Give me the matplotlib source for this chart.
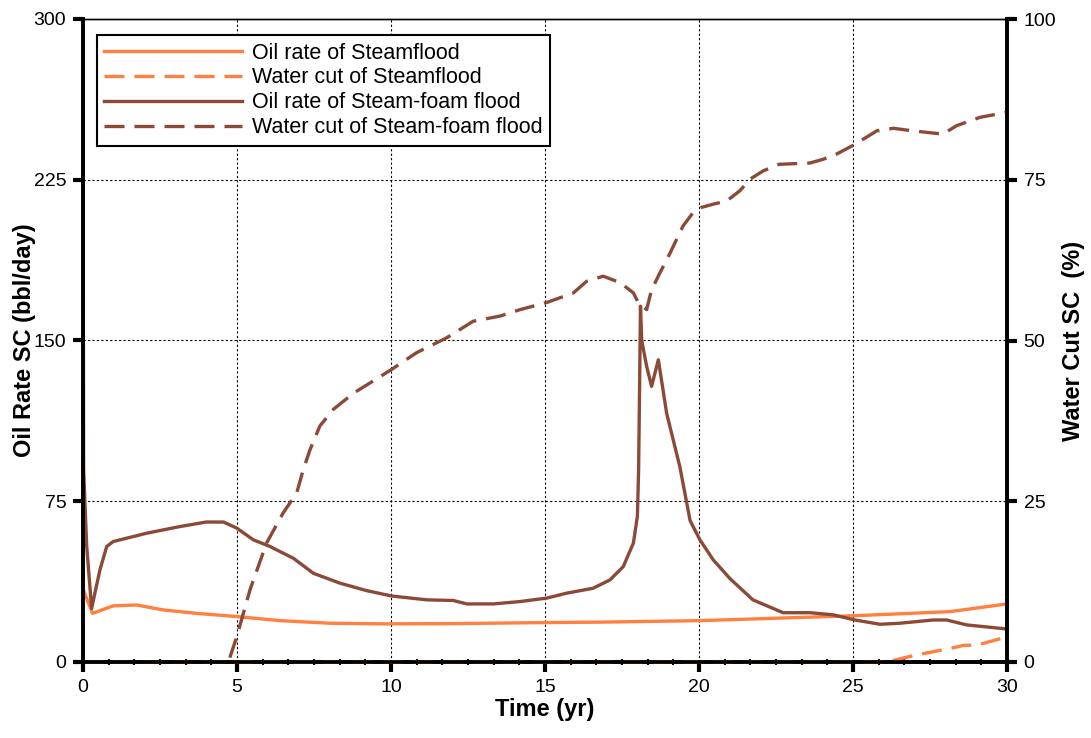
import matplotlib.pyplot as plt
from matplotlib.ticker import MultipleLocator

plt.rcParams['font.family'] = ['Liberation Sans', 'DejaVu Sans']

naranja = '#ff8040'
marron = '#8b4a37'

# tasa de petróleo de la inyección de vapor (bbl/day)
t_vapor = [0, 0.31, 0.98, 1.74, 2.6, 3.69, 4.99, 6.39, 8.0, 9.64, 12.0, 15.05,
           16.79, 20.03, 25.06, 28.15, 30.0]
q_vapor = [34, 22.7, 26.2, 26.6, 24.3, 22.7, 21.2, 19.3, 18.1, 17.8, 17.9, 18.4,
           18.6, 19.3, 21.6, 23.5, 27.1]

# corte de agua de la inyección de vapor (%)
t_wc_vapor = [0, 26.09, 27.06, 28.15, 28.6, 29.0, 30.0]
wc_vapor = [0, 0, 1.1, 2.1, 2.6, 2.6, 3.9]

# tasa de petróleo de la inyección de vapor con espuma (bbl/day)
t_espuma = [0, 0.02, 0.12, 0.28, 0.55, 0.77, 0.98, 2.07, 3.15, 4.0, 4.56, 4.99,
            5.53, 6.07, 6.83, 7.48, 8.34, 9.21, 10.02, 11.16, 12.02, 12.46,
            13.32, 14.19, 15.05, 15.7, 16.56, 17.11, 17.54, 17.87, 18.0, 18.04,
            18.08, 18.1, 18.14, 18.3, 18.46, 18.68, 18.95, 19.38, 19.71, 20.03,
            20.46, 21.0, 21.75, 22.73, 23.6, 24.36, 25.06, 25.88, 26.53, 27.6,
            28.04, 28.69, 30.0]
q_espuma = [268, 90, 54, 25, 43, 53.9, 56.2, 60.1, 63.2, 65.3, 65.3, 62.5,
            57, 53.9, 48.4, 41.4, 36.8, 33.3, 30.8, 29, 28.7, 27.1,
            27.1, 28.2, 29.8, 32.1, 34.4, 38.3, 44.5, 55.5, 68, 90,
            140, 166, 150, 138, 128.6, 141, 116, 91, 66, 57,
            47.7, 39, 29, 23, 23, 22, 19.6, 17.6, 18.1, 19.6,
            19.6, 17.3, 15.4]

# corte de agua de la inyección de vapor con espuma (%)
t_wc_espuma = [0, 4.72, 4.99, 5.42, 5.96, 6.5, 6.94, 7.15, 7.37, 7.69, 8.13,
               8.78, 9.42, 10.02, 10.83, 11.8, 12.67, 13.54, 14.19, 15.05,
               15.92, 16.35, 16.89, 17.44, 17.87, 18.03, 18.3, 18.46, 18.73,
               19.06, 19.48, 19.81, 20.08, 20.46, 20.9, 21.33, 21.66, 22.09,
               22.6, 23.6, 24.04, 24.47, 25.06, 25.77, 26.31, 26.95, 27.92,
               28.36, 29.12, 30.0]
wc_espuma = [0, 0, 3.9, 11.2, 18.5, 23.2, 26.3, 29.9, 33, 36.7, 39.3,
             41.8, 43.7, 45.5, 48.1, 50.4, 53, 53.8, 54.8, 55.9,
             57.4, 59.2, 60, 59, 57.4, 55.9, 54.8, 57.9, 60.5,
             63.6, 67.8, 69.9, 70.7, 71.2, 71.7, 73.3, 75.1, 76.4,
             77.4, 77.6, 78.2, 79, 80.5, 82.6, 83, 82.6, 82.1,
             83.4, 84.7, 85.5]

fig = plt.figure(figsize=(10.91, 7.38), dpi=100)
ax = fig.add_axes([83 / 1091, 1 - 662 / 738, (1007 - 83) / 1091, (662 - 19) / 738])
ax2 = ax.twinx()

lw = 2.4
guiones = (6, 3)
l1, = ax.plot(t_vapor, q_vapor, color=naranja, lw=lw, label='Oil rate of Steamflood')
l3, = ax.plot(t_espuma, q_espuma, color=marron, lw=lw, label='Oil rate of Steam-foam flood')
l2, = ax2.plot(t_wc_vapor, wc_vapor, color=naranja, lw=lw, dashes=guiones,
               label='Water cut of Steamflood')
l4, = ax2.plot(t_wc_espuma, wc_espuma, color=marron, lw=lw, dashes=guiones,
               label='Water cut of Steam-foam flood')
for l in (l1, l2, l3, l4):
    l.set_clip_on(False)

ax.set_xlim(0, 30)
ax.set_ylim(0, 300)
ax2.set_ylim(0, 100)
ax.xaxis.set_major_locator(MultipleLocator(5))
ax.xaxis.set_minor_locator(MultipleLocator(5 / 6))
ax.yaxis.set_major_locator(MultipleLocator(75))
ax2.yaxis.set_major_locator(MultipleLocator(25))

# rejilla punteada
ax.grid(True, which='major', color='black', linestyle=(0, (2, 2)), linewidth=0.8)

ax.tick_params(axis='both', which='major', direction='out', length=7, width=3,
               labelsize=14, pad=5)
ax.tick_params(axis='x', which='minor', direction='inout', length=5, width=1.5)
ax2.tick_params(axis='y', which='major', direction='out', length=7, width=3,
                labelsize=14, pad=5)

for a in (ax, ax2):
    for lado in ('left', 'right', 'bottom'):
        a.spines[lado].set_linewidth(2.6)
    a.spines['top'].set_linewidth(1.0)

ax.set_xlabel('Time (yr)', fontsize=17, fontweight='bold', labelpad=2)
ax.set_ylabel('Oil Rate SC (bbl/day)', fontsize=17, fontweight='bold', labelpad=-2)
ax2.set_ylabel('Water Cut SC  (%)', fontsize=17, fontweight='bold', labelpad=4)

leyenda = ax2.legend(handles=[l1, l2, l3, l4], loc='upper left',
                     bbox_to_anchor=(0.015, 0.975), borderaxespad=0, fontsize=15.5,
                     handlelength=6.4, handletextpad=0.45, labelspacing=0.18,
                     fancybox=False, framealpha=1, edgecolor='black',
                     borderpad=0.35)
leyenda.get_frame().set_linewidth(1.5)

fig.savefig('out.png', dpi=100)
